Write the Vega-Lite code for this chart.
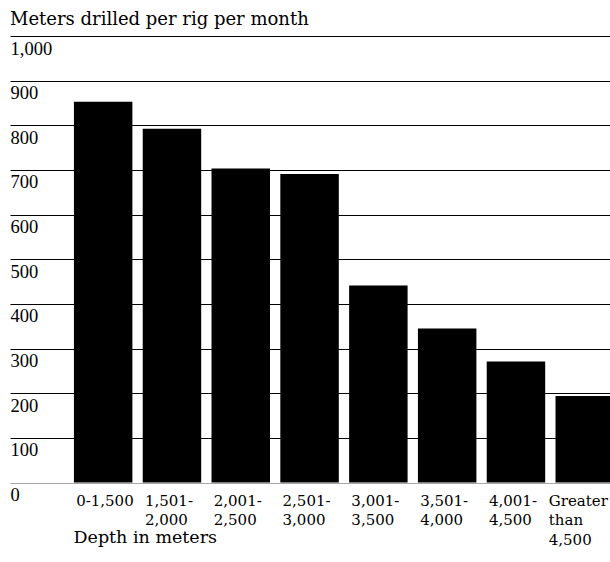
{
  "$schema": "https://vega.github.io/schema/vega-lite/v6.json",
  "width": 604,
  "height": 446.5,
  "autosize": "none",
  "padding": {"left": 10, "top": 36, "right": 0, "bottom": 80},
  "background": "white",
  "title": {
    "text": "Meters drilled per rig per month",
    "anchor": "start",
    "frame": "group",
    "font": "DejaVu Serif",
    "fontSize": 18,
    "fontWeight": "normal",
    "color": "black",
    "offset": 7
  },
  "data": {
    "values": [
      {"depth": "0-1,500", "meters": 853},
      {"depth": "1,501-\n2,000", "meters": 792},
      {"depth": "2,001-\n2,500", "meters": 703},
      {"depth": "2,501-\n3,000", "meters": 691},
      {"depth": "3,001-\n3,500", "meters": 441},
      {"depth": "3,501-\n4,000", "meters": 345},
      {"depth": "4,001-\n4,500", "meters": 271},
      {"depth": "Greater\nthan\n4,500", "meters": 194}
    ]
  },
  "mark": {"type": "bar", "color": "black"},
  "encoding": {
    "x": {
      "field": "depth",
      "type": "nominal",
      "sort": null,
      "scale": {"paddingInner": 0.15, "paddingOuter": 0.4645, "align": 1},
      "axis": {
        "title": "Depth in meters",
        "titleFont": "DejaVu Serif",
        "titleFontSize": 17.5,
        "titleFontWeight": "normal",
        "titleColor": "black",
        "titleX": 63,
        "titleY": 60,
        "titleAlign": "left",
        "titleBaseline": "alphabetic",
        "labelAngle": 0,
        "labelAlign": "left",
        "labelBaseline": "alphabetic",
        "labelOffset": {"condition": {"test": "indexof(datum.value, 'Greater') >= 0", "value": -36}, "value": -27},
        "labelPadding": 22.5,
        "labelExpr": "split(datum.label, '\\n')",
        "labelLineHeight": 19.5,
        "labelFont": "DejaVu Serif",
        "labelFontSize": 15,
        "labelColor": "black",
        "labelOverlap": false,
        "labelBound": false,
        "labelLimit": 0,
        "domain": false,
        "ticks": false,
        "tickSize": 0,
        "grid": false
      }
    },
    "y": {
      "field": "meters",
      "type": "quantitative",
      "scale": {"domain": [0, 1000], "nice": false},
      "axis": {
        "title": null,
        "values": [0, 100, 200, 300, 400, 500, 600, 700, 800, 900, 1000],
        "format": ",d",
        "domain": false,
        "ticks": false,
        "tickSize": 0,
        "labelPadding": 0,
        "labelAlign": "left",
        "labelBaseline": "alphabetic",
        "labelOffset": 18,
        "labelFont": "Liberation Serif",
        "labelFontSize": 18.5,
        "labelColor": "black",
        "labelFlush": false,
        "labelOverlap": false,
        "labelBound": false,
        "grid": true,
        "gridColor": "black",
        "gridWidth": 1.2,
        "gridOpacity": {"condition": {"test": "datum.value === 0", "value": 0.35}, "value": 1}
      }
    }
  },
  "config": {"view": {"stroke": null}}
}
